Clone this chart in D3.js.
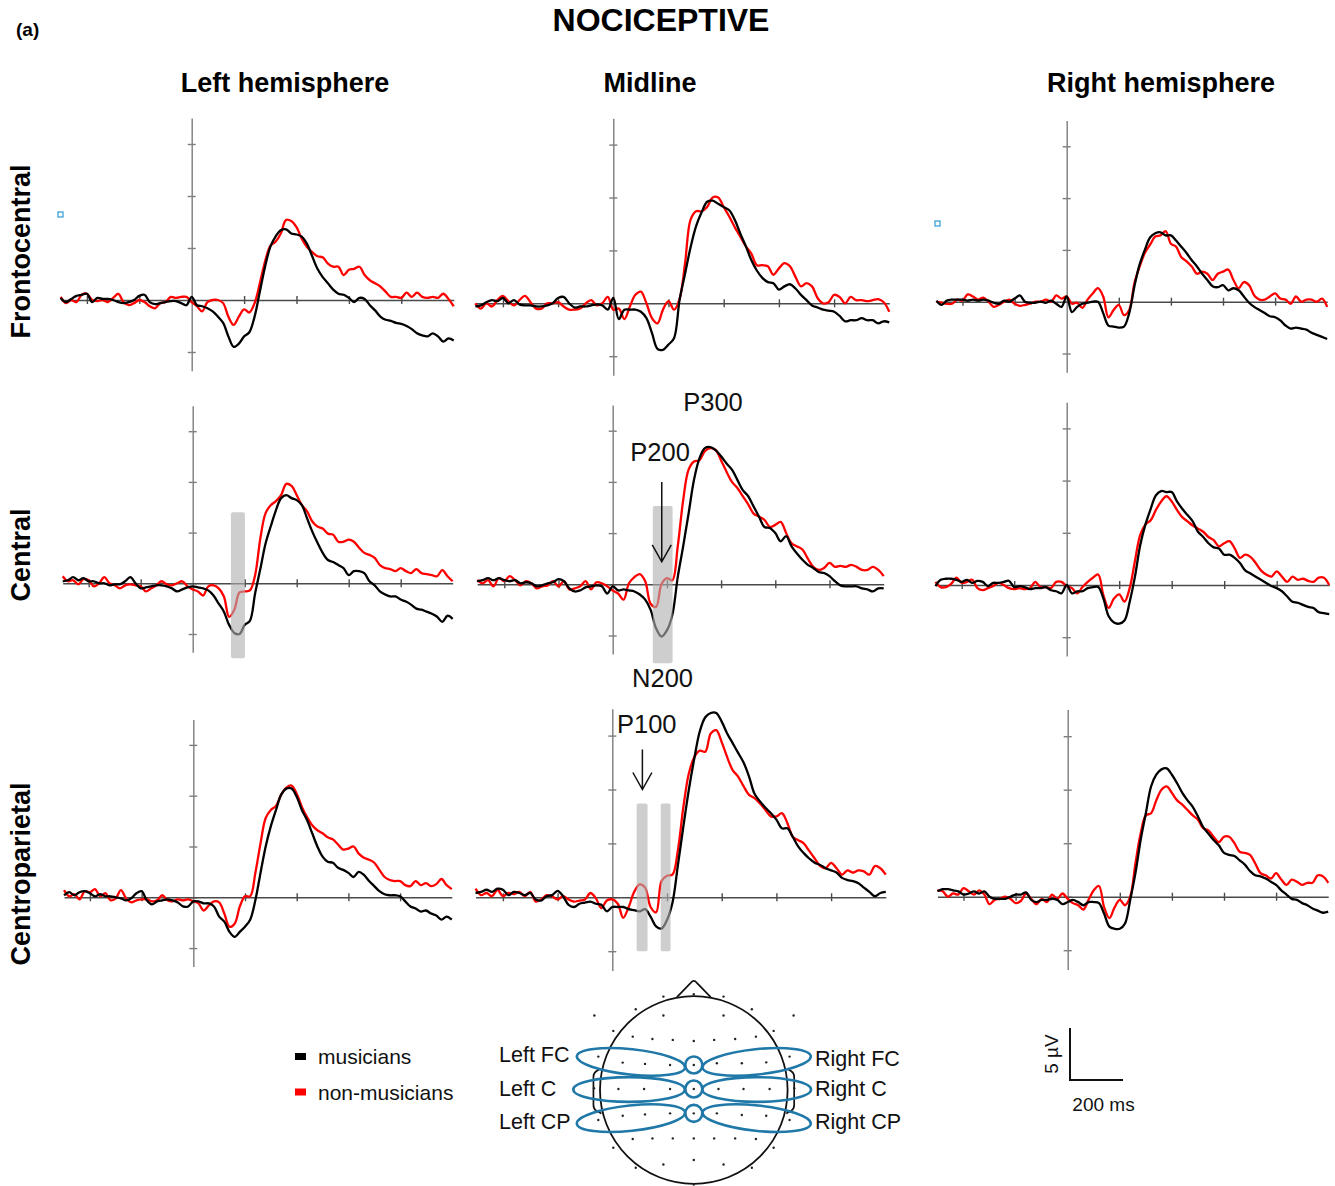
<!DOCTYPE html>
<html>
<head>
<meta charset="utf-8">
<script src="https://cdn.jsdelivr.net/npm/d3@7"></script>
<style>
  body { margin: 0; background: #fff; }
  svg { display: block; }
  text { font-family: "Liberation Sans", Arial, Helvetica, sans-serif; }
</style>
</head>
<body>
<svg id="chart" width="1335" height="1186"></svg>
<script>
// ---- time base (ms, stimulus onset at 0) ----
const timeMs = [
  -500,-480,-460,-440,-420,-400,-380,-360,-340,-320,
  -300,-280,-260,-240,-220,-200,-180,-160,-140,-120,
  -100,-80,-60,-40,-20,0,20,40,60,80,
  100,120,140,160,180,200,220,240,260,280,
  300,320,340,360,380,400,420,440,460,480,
  500,520,540,560,580,600,620,640,660,680,
  700,720,740,760,780,800,820,840,860,880,
  900,920,940,960,980,1000];

const xTickValues = [-400, -200, 200, 400, 600, 800];
const yTickValues = [-5, 0, 5, 10, 15];

const rowNames = ["Frontocentral", "Central", "Centroparietal"];
const colNames = ["Left hemisphere", "Midline", "Right hemisphere"];
const groupNames = ["musicians", "non-musicians"];

// ---- grand-average amplitudes (µV) ----
const fcLeftMus = [0.2,-0.2,0.1,0.4,0.5,0.6,-0.2,0.2,0.1,0.1,
 0.0,-0.2,-0.3,-0.2,0.0,0.4,0.5,-0.2,-0.4,-0.3,
 -0.2,-0.1,-0.1,-0.3,-0.5,0.3,-0.5,-0.6,-0.8,-1.1,
 -1.6,-2.2,-3.5,-4.5,-4.2,-3.5,-3.1,-1.6,0.8,3.2,
 5.1,6.1,6.7,6.8,6.4,6.3,6.1,5.4,4.2,3.0,
 2.2,1.6,1.0,0.6,0.5,0.2,-0.2,0.2,0.1,-0.5,
 -1.0,-1.6,-1.9,-2.0,-2.2,-2.3,-2.5,-2.8,-3.2,-3.4,
 -3.5,-3.2,-3.5,-4.0,-3.7,-3.9];
const fcLeftNon = [0.3,-0.3,0.0,-0.2,0.5,0.6,0.0,-0.1,0.0,-0.2,
 0.2,0.6,-0.2,-0.5,-0.3,0.0,-0.2,-0.6,-0.8,-0.3,
 -0.2,0.3,0.2,0.3,0.3,-0.2,-0.6,-1.1,-0.2,0.0,
 0.0,-0.3,-1.6,-2.4,-1.6,-0.9,-1.2,-0.3,1.6,3.7,
 5.2,5.6,6.4,7.7,7.6,7.0,5.9,5.1,4.6,4.2,
 4.1,3.5,3.2,3.2,2.4,2.9,3.0,3.2,2.4,1.9,
 1.6,1.3,0.8,0.3,0.3,0.2,0.7,0.3,0.7,0.3,
 0.2,0.3,0.2,0.6,0.1,-0.6];

const fcMidMus = [-0.3,-0.2,0.1,0.3,0.2,0.5,0.0,0.3,-0.1,-0.2,
 -0.2,-0.3,-0.3,-0.2,0.0,0.5,0.6,0.0,-0.4,-0.3,
 -0.3,-0.2,-0.1,-0.2,-0.6,0.5,-1.5,-0.6,-0.6,-0.6,
 -0.8,-1.4,-2.8,-4.3,-4.4,-3.9,-3.3,0.3,2.8,5.3,
 7.3,8.6,9.6,9.7,9.4,9.1,8.8,7.9,6.6,5.4,
 4.1,3.1,2.4,2.0,1.9,1.3,1.6,1.8,1.4,0.8,
 0.3,-0.2,-0.4,-0.6,-0.7,-0.8,-1.2,-1.7,-1.6,-1.6,
 -1.4,-1.6,-1.6,-1.9,-1.7,-1.8];
const fcMidNon = [0.0,-0.5,0.0,-0.3,0.3,0.7,0.2,-0.2,0.3,0.7,
 0.1,-0.5,-0.5,0.0,0.0,0.1,-0.3,-0.6,-0.6,-0.5,
 0.0,0.3,-0.2,0.0,0.6,-0.6,-0.5,-1.5,-0.3,0.8,
 1.1,0.0,-1.4,-1.9,-0.6,0.2,-0.6,0.4,3.8,7.9,
 8.7,8.7,9.1,10.0,10.0,9.1,8.2,7.2,6.3,5.4,
 4.7,3.6,3.6,3.5,2.7,3.3,3.8,3.5,2.5,1.6,
 1.9,1.6,0.5,0.0,0.1,0.8,0.6,0.0,0.6,0.3,
 0.3,0.2,0.3,0.4,0.1,-0.8];

const fcRightMus = [0.1,-0.3,0.1,0.2,0.2,0.2,0.1,0.2,0.1,0.2,
 0.1,-0.1,-0.2,0.1,0.0,0.3,0.6,0.0,-0.1,-0.1,
 0.0,-0.1,0.1,-0.2,-0.5,0.5,-1.0,-0.5,-0.2,-0.1,
 0.0,0.0,-1.1,-2.3,-2.4,-2.5,-2.4,-1.1,1.5,3.6,
 5.0,6.2,6.6,6.7,6.4,6.4,5.9,5.3,4.7,4.0,
 3.4,2.7,2.1,1.5,1.4,1.6,1.1,1.3,1.1,0.5,
 -0.1,-0.5,-0.8,-1.1,-1.4,-1.5,-1.8,-2.3,-2.6,-2.5,
 -2.6,-2.7,-3.0,-3.2,-3.4,-3.6];
const fcRightNon = [0.0,-0.1,-0.2,-0.2,0.2,0.1,0.7,0.5,0.2,0.4,
 0.0,-0.5,-0.3,0.0,0.2,-0.2,-0.4,-0.3,-0.2,0.0,
 0.0,0.2,0.0,0.6,0.3,0.5,-0.2,-0.1,-0.6,0.2,
 0.8,1.3,0.5,-1.5,-0.8,-0.3,-1.3,-0.8,1.8,3.4,
 4.7,5.5,6.3,6.4,6.8,5.6,5.3,4.3,3.9,3.4,
 2.7,2.9,2.7,2.1,2.7,2.9,3.1,2.1,1.3,1.9,
 1.6,0.6,0.2,0.2,0.5,0.8,0.3,0.2,-0.2,0.5,
 0.0,0.2,0.2,0.0,0.3,-0.5];

const cLeftMus = [0.2,0.3,0.6,0.3,0.5,0.2,0.2,0.0,0.0,-0.2,
 -0.1,-0.1,0.2,0.6,0.0,-0.5,-0.4,-0.3,-0.2,-0.2,
 -0.3,-0.5,-0.8,-0.6,-0.4,-0.3,-0.4,-0.5,-0.7,-1.2,
 -2.0,-2.8,-4.1,-4.9,-5.0,-4.1,-3.7,-1.0,1.4,3.9,
 5.6,7.2,8.4,8.7,8.4,8.2,7.7,6.4,5.1,4.0,
 3.0,2.3,2.1,1.8,1.5,0.8,1.2,1.2,1.0,0.2,
 -0.2,-0.8,-1.1,-1.3,-1.3,-1.6,-1.8,-2.1,-2.5,-2.6,
 -2.8,-3.0,-3.3,-3.8,-3.2,-3.5];
const cLeftNon = [0.7,0.2,0.3,-0.1,0.4,0.3,-0.3,0.0,0.6,0.0,
 -0.2,-0.5,-0.2,-0.1,-0.2,-0.3,-0.8,-0.5,-0.2,0.2,
 -0.1,-0.2,0.0,0.2,-0.3,-0.6,-0.8,-1.2,-0.3,-0.2,
 -0.5,-1.3,-3.3,-2.6,-0.9,-0.8,-0.7,0.8,4.4,6.9,
 7.7,8.1,8.7,9.8,9.6,8.7,7.7,7.1,6.1,5.6,
 5.4,4.9,4.8,4.1,4.1,4.3,4.1,3.5,3.0,2.8,
 2.5,1.8,1.5,1.4,1.2,1.5,1.2,1.0,1.4,1.0,
 0.9,0.8,0.7,1.3,0.7,0.2];

const cMidMus = [0.3,0.4,0.6,0.4,0.6,0.4,0.3,0.4,0.1,0.2,
 0.1,-0.2,-0.1,0.1,0.2,0.5,0.3,-0.4,-0.7,-0.6,
 -0.3,-0.2,-0.1,-0.2,-0.9,-0.2,-0.6,-0.5,-0.6,-0.7,
 -1.0,-1.5,-2.5,-4.3,-5.1,-4.5,-3.0,0.7,3.7,6.9,
 10.2,12.3,13.3,13.4,13.1,12.5,11.8,11.2,10.2,9.2,
 8.6,7.6,6.6,5.6,5.5,5.0,4.2,4.7,3.7,3.0,
 2.4,1.9,1.6,1.2,1.1,0.8,0.3,-0.1,-0.2,-0.2,
 -0.2,-0.4,-0.5,-0.7,-0.4,-0.4];
const cMidNon = [0.4,0.1,0.4,-0.2,0.6,0.3,0.8,0.4,-0.1,0.3,
 0.1,-0.4,-0.2,-0.1,0.3,-0.2,0.3,-0.5,-0.4,-0.2,
 0.3,-0.5,0.2,0.1,-0.2,-0.6,-0.9,-1.5,0.1,0.7,
 1.0,0.3,-1.9,-2.2,0.0,0.6,0.4,3.7,8.2,11.2,
 12.0,12.1,13.0,13.3,13.1,12.1,11.0,10.0,9.4,8.6,
 7.8,6.9,6.6,6.3,5.6,5.8,6.1,5.0,4.0,3.7,
 3.4,2.5,1.7,1.4,1.6,2.1,1.7,1.8,1.7,1.9,
 1.7,1.4,1.4,1.7,1.4,0.8];

const cRightMus = [-0.1,0.5,0.6,0.6,0.5,0.3,0.5,0.2,0.4,0.3,
 -0.1,0.2,0.2,0.3,0.4,-0.2,-0.1,-0.2,-0.4,-0.3,
 -0.3,-0.2,-0.5,-0.6,-0.8,0.0,-0.8,-0.6,-0.6,-0.3,
 -0.2,-0.2,-1.3,-3.0,-3.6,-3.7,-3.4,-1.6,0.8,3.8,
 5.8,7.3,8.6,9.0,8.9,8.9,8.0,7.3,6.7,6.1,
 5.1,4.6,4.0,3.6,3.5,2.9,2.9,2.6,2.1,1.4,
 1.1,0.8,0.5,0.2,-0.1,-0.3,-0.6,-1.1,-1.6,-1.7,
 -1.9,-2.1,-2.2,-2.6,-2.7,-2.8];
const cRightNon = [0.3,-0.2,-0.2,0.1,0.7,0.2,0.3,0.5,-0.3,-0.5,
 -0.3,-0.1,0.2,0.0,-0.3,-0.4,-0.3,-0.4,-0.3,0.3,
 -0.2,-0.2,-0.3,0.3,0.3,-0.1,-0.3,-0.8,-0.2,0.3,
 0.7,1.0,-1.0,-2.2,-1.3,-0.9,-1.6,-0.3,2.3,4.8,
 5.8,6.2,7.2,8.0,8.5,8.0,7.2,6.5,6.1,5.7,
 5.4,5.1,4.6,4.3,3.7,4.0,4.2,3.5,2.6,2.9,
 2.7,2.1,1.4,1.0,0.8,1.3,0.8,0.3,0.8,0.5,
 0.6,0.4,0.3,0.7,0.7,0.0];

const cpLeftMus = [0.2,0.5,0.2,0.5,0.6,0.4,0.1,0.3,0.1,0.1,
 0.0,-0.1,-0.3,-0.1,0.4,0.6,-0.3,-0.7,-0.4,-0.3,
 -0.2,-0.3,-0.5,-0.9,-0.9,-0.4,-0.4,-0.6,-0.6,-0.9,
 -1.9,-2.4,-3.4,-3.9,-3.4,-2.9,-2.2,-0.3,2.4,5.0,
 7.0,8.6,10.1,10.7,10.7,9.9,8.6,7.6,6.3,5.0,
 4.0,3.5,3.4,2.9,2.7,2.4,2.0,2.5,2.2,1.6,
 1.1,0.6,0.3,0.2,0.2,0.1,-0.4,-0.9,-1.1,-1.4,
 -1.3,-1.6,-1.8,-2.2,-1.9,-2.2];
const cpLeftNon = [0.7,0.1,0.3,-0.2,0.6,0.5,0.8,0.1,0.4,-0.3,
 -0.1,0.7,-0.1,-0.5,-0.3,-0.2,-0.2,-0.4,-0.3,0.2,
 -0.3,-0.4,-0.2,-0.3,-0.2,-0.4,-0.6,-1.3,-0.8,-0.4,
 -0.5,-1.6,-2.9,-2.6,-0.9,0.1,0.1,2.4,5.3,7.8,
 8.6,9.0,10.1,10.8,11.0,10.2,8.9,7.9,7.1,6.6,
 6.3,5.9,5.7,5.2,4.7,4.8,5.0,4.3,3.9,3.7,
 3.4,2.7,2.0,1.7,1.6,1.6,1.2,1.1,1.6,1.2,
 1.4,1.1,1.3,1.8,1.2,0.8];

const cpMidMus = [0.4,0.5,0.7,0.5,0.8,0.7,0.2,0.5,0.4,0.2,
 0.4,-0.2,-0.3,0.1,0.2,0.6,0.1,-0.7,-0.9,-0.6,
 -0.5,-0.4,-0.6,-0.7,-1.3,-0.9,-0.9,-0.9,-1.1,-1.2,
 -1.3,-1.1,-1.8,-2.7,-2.9,-2.1,-0.5,3.0,6.6,10.0,
 12.9,15.4,16.7,17.1,17.1,16.3,15.2,14.3,13.4,12.5,
 11.2,9.6,8.9,8.3,7.8,7.2,6.4,6.4,5.6,4.7,
 4.1,3.6,3.2,3.0,2.7,2.5,2.3,1.8,1.6,1.5,
 1.3,0.9,0.5,0.1,0.4,0.5];
const cpMidNon = [0.8,0.2,0.4,0.1,0.7,0.1,0.4,0.3,0.5,0.1,
 0.5,-0.4,-0.2,0.2,0.1,-0.2,0.1,-0.2,-0.4,-0.3,
 -0.2,0.4,-0.1,-1.0,-0.3,-0.2,-0.6,-1.9,-0.9,0.5,
 1.2,0.9,-0.9,-1.4,1.5,2.0,2.1,4.4,8.4,11.5,
 13.0,13.6,13.5,15.2,15.5,14.4,13.0,11.8,11.2,10.3,
 9.5,9.2,8.7,8.1,7.5,7.5,7.8,6.9,5.6,5.3,
 5.0,4.3,3.6,2.9,2.7,3.2,2.7,2.1,2.5,2.3,
 2.5,2.4,2.1,2.9,2.7,2.1];

const cpRightMus = [0.5,0.7,0.7,0.6,0.5,0.2,0.3,0.5,0.3,0.5,
 0.0,-0.2,-0.2,-0.2,0.0,0.2,0.2,0.4,-0.3,-0.5,
 -0.3,-0.3,-0.2,-0.3,-0.7,-0.5,-0.3,-0.5,-0.8,-0.5,
 -0.5,-0.6,-1.6,-2.8,-3.0,-3.0,-2.5,-0.3,2.2,5.3,
 7.8,10.3,11.4,11.9,12.0,11.4,10.6,9.7,9.0,8.4,
 7.5,6.5,5.9,5.3,4.8,4.1,3.9,3.8,3.4,3.0,
 2.4,2.0,1.9,1.7,1.4,1.1,0.6,0.2,-0.2,-0.3,
 -0.6,-0.8,-1.1,-1.3,-1.5,-1.4];
const cpRightNon = [0.6,0.5,0.0,0.3,0.2,0.8,0.5,0.2,0.6,0.2,
 -0.7,-0.3,-0.2,0.0,-0.2,-0.6,-0.4,0.3,-0.2,-0.7,
 -0.2,-0.5,0.2,-0.2,0.3,-0.2,-0.6,-0.8,-1.2,-0.3,
 0.6,1.0,-1.0,-2.0,-1.0,-0.3,-0.8,0.0,3.1,5.9,
 7.6,7.8,9.0,10.0,10.3,9.7,9.0,8.6,8.1,7.6,
 7.2,6.4,6.2,5.6,5.1,5.6,5.6,5.0,4.2,4.1,
 3.9,3.1,2.2,2.0,1.7,2.2,1.6,1.1,1.6,1.4,
 1.1,1.3,1.3,2.0,1.9,1.3];

// significant time windows (ms) and their vertical span (µV)
const sigWindows = [
  { panel: "cLeft",  t0: 147, t1: 201, v0: -7.4, v1: 7.0 },
  { panel: "cMid",   t0: 148, t1: 221, v0: -7.7, v1: 7.65 },
  { panel: "cpMid",  t0: 89,  t1: 129, v0: -5.0, v1: 8.7 },
  { panel: "cpMid",  t0: 177, t1: 213, v0: -5.0, v1: 8.7 }
];

// component labels (time in ms, amplitude in µV of the text baseline)
const componentLabels = [
  { panel: "cMid",  text: "P300", t: 370, v: 16.95 },
  { panel: "cMid",  text: "P200", t: 175, v: 12.0 },
  { panel: "cMid",  text: "N200", t: 184, v: -10.0 },
  { panel: "cpMid", text: "P100", t: 126, v: 15.2 }
];
const componentArrows = [
  { panel: "cMid",  t: 181, vFrom: 10.0, vTo: 2.2 },
  { panel: "cpMid", t: 110, vFrom: 13.7, vTo: 10.0 }
];

// ---- panel geometry ----
const panels = [
  { key: "fcLeft",  mus: fcLeftMus,  non: fcLeftNon,  xZero: 191.7,  xUnit: 52.4, yZero: 300.0, yUnit: 52.0 },
  { key: "fcMid",   mus: fcMidMus,   non: fcMidNon,   xZero: 613.3,  xUnit: 55.2, yZero: 303.3, yUnit: 52.9 },
  { key: "fcRight", mus: fcRightMus, non: fcRightNon, xZero: 1066.7, xUnit: 52.1, yZero: 301.7, yUnit: 51.8 },
  { key: "cLeft",   mus: cLeftMus,   non: cLeftNon,   xZero: 192.7,  xUnit: 52.0, yZero: 583.3, yUnit: 50.7 },
  { key: "cMid",    mus: cMidMus,    non: cMidNon,    xZero: 612.7,  xUnit: 54.2, yZero: 584.3, yUnit: 51.2 },
  { key: "cRight",  mus: cRightMus,  non: cRightNon,  xZero: 1066.7, xUnit: 52.5, yZero: 585.0, yUnit: 52.2 },
  { key: "cpLeft",  mus: cpLeftMus,  non: cpLeftNon,  xZero: 193.3,  xUnit: 51.7, yZero: 897.3, yUnit: 50.8 },
  { key: "cpMid",   mus: cpMidMus,   non: cpMidNon,   xZero: 612.3,  xUnit: 54.7, yZero: 897.3, yUnit: 53.9 },
  { key: "cpRight", mus: cpRightMus, non: cpRightNon, xZero: 1067.7, xUnit: 52.1, yZero: 896.7, yUnit: 53.5 }
];

const RED = "#ff0000", BLACK = "#000000";
const svg = d3.select("#chart");
const scales = {};

panels.forEach(p => {
  const x = d3.scaleLinear().domain([-500, 1000])
    .range([p.xZero - 2.5 * p.xUnit, p.xZero + 5 * p.xUnit]);
  const y = d3.scaleLinear().domain([-6.8, 17.5])
    .range([p.yZero + 1.36 * p.yUnit, p.yZero - 3.5 * p.yUnit]);
  scales[p.key] = { x, y };
  const g = svg.append("g").attr("class", "panel " + p.key);

  // y axis: vertical line at 0 ms with crossing ticks
  const ya = g.append("g").attr("transform", `translate(${x(0)},0)`)
    .call(d3.axisLeft(y).tickValues(yTickValues).tickSize(4).tickSizeOuter(0).tickFormat(""))
    .attr("color", "#7d7d7d");
  ya.selectAll("path,line").attr("stroke-width", 1.4);
  const yb = g.append("g").attr("transform", `translate(${x(0)},0)`)
    .call(d3.axisRight(y).tickValues(yTickValues).tickSize(4).tickFormat(""))
    .attr("color", "#7d7d7d");
  yb.select(".domain").remove();
  yb.selectAll("line").attr("stroke-width", 1.4);

  // x axis: baseline at 0 µV with crossing ticks
  const xa = g.append("g").attr("transform", `translate(0,${y(0)})`)
    .call(d3.axisBottom(x).tickValues(xTickValues).tickSize(4).tickSizeOuter(0).tickFormat(""))
    .attr("color", "#4a4a4a");
  xa.selectAll("path,line").attr("stroke-width", 1.4);
  const xb = g.append("g").attr("transform", `translate(0,${y(0)})`)
    .call(d3.axisTop(x).tickValues(xTickValues).tickSize(4).tickFormat(""))
    .attr("color", "#4a4a4a");
  xb.select(".domain").remove();
  xb.selectAll("line").attr("stroke-width", 1.4);

  const line = d3.line()
    .x((d, i) => x(timeMs[i]))
    .y(d => y(d))
    .curve(d3.curveCatmullRom.alpha(0.5));

  g.append("path").datum(p.non).attr("d", line)
    .attr("fill", "none").attr("stroke", RED).attr("stroke-width", 2.3)
    .attr("stroke-linejoin", "round");
  g.append("path").datum(p.mus).attr("d", line)
    .attr("fill", "none").attr("stroke", BLACK).attr("stroke-width", 2.3)
    .attr("stroke-linejoin", "round");
});

// shaded significance windows (semi-transparent, above the traces)
sigWindows.forEach(w => {
  const { x, y } = scales[w.panel];
  svg.append("rect")
    .attr("x", x(w.t0)).attr("width", x(w.t1) - x(w.t0))
    .attr("y", y(w.v1)).attr("height", y(w.v0) - y(w.v1))
    .attr("rx", 2).attr("fill", "#b0b0b0").attr("fill-opacity", 0.62);
});

// component labels and arrows
componentLabels.forEach(c => {
  const { x, y } = scales[c.panel];
  svg.append("text").attr("x", x(c.t)).attr("y", y(c.v))
    .attr("text-anchor", "middle").attr("font-size", 25.5).attr("fill", "#111")
    .text(c.text);
});
componentArrows.forEach(a => {
  const { x, y } = scales[a.panel];
  const ax = x(a.t), y0 = y(a.vFrom), y1 = y(a.vTo);
  svg.append("path")
    .attr("d", `M${ax},${y0}V${y1}M${ax - 9.5},${y1 - 17}L${ax},${y1}L${ax + 9.5},${y1 - 17}`)
    .attr("fill", "none").attr("stroke", "#111").attr("stroke-width", 1.5);
});

// ---- titles ----
svg.append("text").attr("x", 16).attr("y", 36).attr("font-size", 19)
  .attr("font-weight", "bold").text("(a)");
svg.append("text").attr("x", 661).attr("y", 31).attr("text-anchor", "middle")
  .attr("font-size", 32).attr("font-weight", "bold").text("NOCICEPTIVE");

const colCenters = [285, 650, 1161];
colNames.forEach((n, i) => {
  svg.append("text").attr("x", colCenters[i]).attr("y", 92)
    .attr("text-anchor", "middle").attr("font-size", 27).attr("font-weight", "bold").text(n);
});
const rowCenters = [251.5, 555, 874];
rowNames.forEach((n, i) => {
  svg.append("text").attr("transform", `translate(30,${rowCenters[i]}) rotate(-90)`)
    .attr("text-anchor", "middle").attr("font-size", 27).attr("font-weight", "bold").text(n);
});

// tiny marker squares left of the top row
[[58, 212], [935, 221]].forEach(([sx, sy]) => {
  svg.append("rect").attr("x", sx).attr("y", sy).attr("width", 5).attr("height", 5)
    .attr("fill", "none").attr("stroke", "#2e9bd6").attr("stroke-width", 1.2);
});

// ---- legend ----
const legendColors = [BLACK, RED];
groupNames.forEach((n, i) => {
  const ly = 1064 + i * 35.5;
  svg.append("rect").attr("x", 295).attr("y", ly - 11).attr("width", 11).attr("height", 7)
    .attr("fill", legendColors[i]);
  svg.append("text").attr("x", 318).attr("y", ly).attr("font-size", 21).attr("fill", "#111").text(n);
});

// ---- scale bar: 5 µV by 200 ms ----
const sbV = d3.scaleLinear().domain([0, 5]).range([1080, 1028]);
const sbT = d3.scaleLinear().domain([0, 200]).range([1070, 1123]);
svg.append("path")
  .attr("d", `M${sbT(0)},${sbV(5)}V${sbV(0)}H${sbT(200)}`)
  .attr("fill", "none").attr("stroke", "#111").attr("stroke-width", 2);
svg.append("text").attr("transform", `translate(1058,${sbV(2.5)}) rotate(-90)`)
  .attr("text-anchor", "middle").attr("font-size", 19).attr("fill", "#111").text("5 µV");
svg.append("text").attr("x", 1103.5).attr("y", 1111)
  .attr("text-anchor", "middle").attr("font-size", 19).attr("fill", "#111").text("200 ms");

// ---- electrode montage (head units: radius = 100) ----
const electrodes = [
  [0,-102],[-32.4,-99.6],[31.7,-99.6],[-61.9,-86.1],[61.9,-86.1],
  [-106,-79.4],[-32.4,-79.4],[31.7,-79.4],[106.4,-79.4],
  [-85.8,-63],[85.1,-63],[-65.1,-56.9],[66.2,-56.9],
  [-44.1,-54.4],[-22.4,-53.4],[0,-52.3],[21.7,-53.4],[44.1,-54.4],
  [-101.8,-35.6],[102.1,-35.6],
  [-75.8,-29.2],[-52,-27.8],[-25.3,-26.7],[0,-26.7],[24.6,-28.5],[51.2,-28.5],[77.2,-29.5],
  [-106.4,-1.8],[-80.4,-1.1],[-53,-1.1],[-25.3,-1.1],[0,-1.1],[26.3,-1.1],[53,-1.1],[80.8,-1.1],[107.1,-1.8],
  [-101.8,32],[-75.8,27.4],[-52,26],[-25.3,24.9],[0,24.9],[24.6,24.9],[51.2,26.7],[77.2,27.4],[102.1,32],
  [-65.1,52.3],[-44.1,51.6],[-22.4,51.6],[0,51.6],[21.7,51.6],[44.1,51.6],[66.2,52.3],
  [-85.8,61.6],[85.1,61.6],[-32.4,79.4],[0,74.7],[31.7,79.4],
  [-61.9,82.9],[61.9,82.9],[0,100.7]
];
const regions = [
  { name: "Left FC",  cx: -67, cy: -30, rx: 58, ry: 13.5, rot: 6,  lx: 499, ly: 1062 },
  { name: "Left C",   cx: -69, cy: -0.5, rx: 59.5, ry: 13.2, rot: 0, lx: 499, ly: 1096 },
  { name: "Left CP",  cx: -67, cy: 30,  rx: 58, ry: 13.5, rot: -6, lx: 499, ly: 1129 },
  { name: "Right FC", cx: 67,  cy: -30, rx: 58, ry: 13.5, rot: -6, lx: 815, ly: 1066 },
  { name: "Right C",  cx: 67,  cy: -0.5, rx: 58, ry: 13.2, rot: 0, lx: 815, ly: 1096 },
  { name: "Right CP", cx: 67,  cy: 30,  rx: 58, ry: 13.5, rot: 6,  lx: 815, ly: 1129 }
];
const midlineSites = [[0, -26.7], [0, -1.1], [0, 24.9]];

const headCx = 693.8, headCy = 1090, headR = 93.8;
const hx = d3.scaleLinear().domain([-100, 100]).range([headCx - headR, headCx + headR]);
const hy = d3.scaleLinear().domain([-100, 100]).range([headCy - headR, headCy + headR]);
const head = svg.append("g");

head.append("path")
  .attr("d", `M${hx(-18)},${hy(-99)}L${hx(-3)},${hy(-114.5)}Q${hx(0)},${hy(-118)} ${hx(3)},${hy(-114.5)}L${hx(18)},${hy(-99)}`)
  .attr("fill", "none").attr("stroke", "#111").attr("stroke-width", 1.7);
head.append("path")
  .attr("d", `M${hx(-99.5)},${hy(-23)}L${hx(-104)},${hy(-20)}Q${hx(-107)},${hy(-18)} ${hx(-107)},${hy(-14)}L${hx(-107)},${hy(16)}Q${hx(-107)},${hy(20)} ${hx(-104)},${hy(22)}L${hx(-98.5)},${hy(25)}`)
  .attr("fill", "none").attr("stroke", "#111").attr("stroke-width", 1.7);
head.append("path")
  .attr("d", `M${hx(99.5)},${hy(-23)}L${hx(104)},${hy(-20)}Q${hx(107)},${hy(-18)} ${hx(107)},${hy(-14)}L${hx(107)},${hy(16)}Q${hx(107)},${hy(20)} ${hx(104)},${hy(22)}L${hx(98.5)},${hy(25)}`)
  .attr("fill", "none").attr("stroke", "#111").attr("stroke-width", 1.7);
head.append("circle").attr("cx", headCx).attr("cy", headCy).attr("r", headR)
  .attr("fill", "none").attr("stroke", "#111").attr("stroke-width", 1.8);

head.selectAll("circle.el").data(electrodes).join("circle").attr("class", "el")
  .attr("cx", d => hx(d[0])).attr("cy", d => hy(d[1])).attr("r", 1.2).attr("fill", "#222");

const BLUE = "#1f78a8";
regions.forEach(r => {
  head.append("ellipse")
    .attr("transform", `translate(${hx(r.cx)},${hy(r.cy)}) rotate(${r.rot})`)
    .attr("rx", r.rx * headR / 100).attr("ry", r.ry * headR / 100)
    .attr("fill", "none").attr("stroke", BLUE).attr("stroke-width", 2.6);
  head.append("text").attr("x", r.lx).attr("y", r.ly)
    .attr("font-size", 21.5).attr("fill", "#111").text(r.name);
});
midlineSites.forEach(s => {
  head.append("circle").attr("cx", hx(s[0])).attr("cy", hy(s[1])).attr("r", 8.5)
    .attr("fill", "none").attr("stroke", BLUE).attr("stroke-width", 2.6);
});
</script>
</body>
</html>
